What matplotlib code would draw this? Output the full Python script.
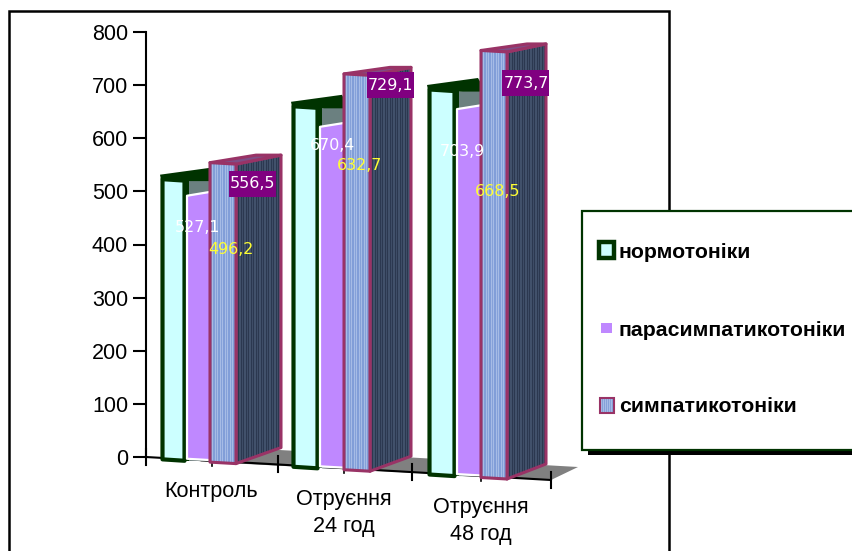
import matplotlib
matplotlib.use("Agg")
import matplotlib.pyplot as plt
from matplotlib.collections import LineCollection
from matplotlib.lines import Line2D
from matplotlib.patches import Polygon, Rectangle

# Values
categories = ["Контроль", "Отруєння\n24 год", "Отруєння\n48 год"]
series_names = ["нормотоніки", "парасимпатикотоніки", "симпатикотоніки"]
normo = [527.1, 670.4, 703.9]
para = [496.2, 632.7, 668.5]
sympa = [556.5, 729.1, 773.7]
y_ticks = [0, 100, 200, 300, 400, 500, 600, 700, 800]

# Pseudo-3D layout, x runs in pixels from the left edge of the figure
W, H = 853, 551
Y0, Y800 = 457, 32
K = (Y0 - Y800) / 800
FLOOR_SLOPE = 0.0568
group_edges = [(161, 186, 210, 236), (292, 319, 344, 370), (428, 456, 481, 507)]
side_ends = [281, 411, 546]
side_rise = [16, 15, 15]
top_rise = [9, 8, 8]
stretch = [1.013, 1.022, 1.039]

CYAN = "#CCFFFF"
DARK = "#003300"
SIDE = "#6B8080"
PURPLE = "#BF88FF"
EDGE = "#993366"
FRONT = "#7C9AD6"
FRONT_LINE = "#A6BCE6"
BACK = "#45556F"
BACK_LINE = "#2B3850"


def val(py):
    # pixel row -> value on the y axis
    return (Y0 - py) / K


def floor_y(x):
    return val(Y0 + (x - 146) * FLOOR_SLOPE + 1.5)


def top_y(x, v, g):
    return floor_y(x) + v * stretch[g]


def frange(a, b, step):
    out = []
    while a < b:
        out.append(a)
        a += step
    return out


fig = plt.figure(figsize=(W / 100, H / 100), dpi=100, facecolor="white")
ax = fig.add_axes([146 / W, (H - Y0) / H, (W - 146) / W, (Y0 - Y800) / H])
ax.patch.set_visible(False)
ax.set_xlim(146, W)
ax.set_ylim(0, 800)
ax.set_yticks(y_ticks)
ax.set_xticks([])
for name in ["top", "right", "bottom"]:
    ax.spines[name].set_visible(False)
ax.spines["left"].set_linewidth(1.5)
ax.tick_params(axis="y", length=9.4, width=1.5, pad=3.5, labelsize=15.5)
for lab in ax.get_yticklabels():
    lab.set_fontfamily("Liberation Sans")

# outer frame, the bottom side falls off the figure
fig.add_artist(Line2D([9 / W, 9 / W, 669 / W, 669 / W], [0, 1 - 11 / H, 1 - 11 / H, 0],
                      color="black", lw=1.8, zorder=-1, solid_joinstyle="miter"))


def poly(points, face, edge="none", lw=0.0, z=3):
    p = Polygon(points, closed=True, facecolor=face, edgecolor=edge, linewidth=lw,
                zorder=z, clip_on=False, joinstyle="round")
    ax.add_patch(p)
    return p


def stripes(patch, x0, x1, color, step, z):
    lines = [[(x, -100), (x, 900)] for x in frange(x0, x1, step)]
    lc = LineCollection(lines, colors=color, linewidths=0.9, zorder=z)
    ax.add_collection(lc)
    # the faces reach below the zero line, so only the face itself may clip
    lc.set_clip_box(None)
    lc.set_clip_path(patch)


# floor
floor_left, floor_right = 200, 551
poly([(floor_left, floor_y(floor_left)), (floor_right, val(480)), (578, val(467)),
      (floor_left + 27, val(447))], "#808080", z=1)
ax.plot([146, 551], [val(457), val(480)], color="black", lw=1.5, clip_on=False, zorder=2)
for x in [146, 278, 412, 551]:
    yc = val(457 + (x - 146) * (23 / 405))
    ax.plot([x, x], [yc + 8 / K, yc - 8 / K], color="black", lw=1.5, clip_on=False, zorder=2)
for x in [212, 344, 481]:
    yc = val(457 + (x - 146) * (23 / 405))
    ax.plot([x, x], [yc, yc - 5 / K], color="black", lw=1.2, clip_on=False, zorder=2)

for g in range(3):
    x0, x1, x2, x3 = group_edges[g]
    xs = side_ends[g]
    base = 3 + g

    # first series: cyan face with a heavy dark outline and a dark top
    t0, t1 = top_y(x0, normo[g], g), top_y(x1, normo[g], g)
    inner = x1 + 3
    back = x1 + 30
    poly([(inner, floor_y(x1)), (inner, t1 - 4 / K), (back, t1), (back, floor_y(x1))], SIDE, z=base)
    poly([(x0 - 1, t0 + 1 / K), (x0 + 50, t0 + 8 / K), (back, t1 - 4 / K), (inner, t1 - 4 / K), (x0, t0 - 4 / K)],
         DARK, z=base + 0.05)
    poly([(x1 - 2, floor_y(x1)), (x1 - 2, t1 - 1 / K), (inner, t1 - 1 / K), (inner, floor_y(x1))], DARK, z=base + 0.06)
    poly([(x0 + 1.5, floor_y(x0)), (x0 + 1.5, t0 - 3.5 / K), (x1 - 1.5, t1 - 3.5 / K), (x1 - 1.5, floor_y(x1))],
         CYAN, DARK, 3.0, base + 0.1)

    # second series: lilac face with a white outline, rising to the right
    t1p, t2p = top_y(x1, para[g], g), top_y(x2, para[g], g)
    poly([(x1 + 1, floor_y(x1) + 2 / K), (x1 + 1, t1p - 2 / K), (x2 + 1, t1p + 2 / K), (x2 + 1, floor_y(x2) + 2 / K)],
         PURPLE, "white", 1.6, base + 0.3)

    # third series: striped faces with a crimson outline
    t2, t3 = top_y(x2, sympa[g], g), top_y(x3, sympa[g], g)
    rise = side_rise[g] / K
    tr = top_rise[g] / K
    side_pts = [(x3, floor_y(x3)), (x3, t3), (xs, t3 + tr), (xs, floor_y(x3) + rise)]
    side = poly(side_pts, BACK, z=base + 0.4)
    stripes(side, x3, xs, BACK_LINE, 2.5, base + 0.45)
    poly(side_pts, "none", EDGE, 2.2, base + 0.5)
    poly([(x2, t2), (x3, t3), (xs, t3 + tr), (x3 + 20, t3 + tr)], "#7E4E86", EDGE, 2.2, base + 0.55)
    front_pts = [(x2, floor_y(x2)), (x2, t2), (x3, t3), (x3, floor_y(x3))]
    front = poly(front_pts, FRONT, z=base + 0.6)
    stripes(front, x2, x3, FRONT_LINE, 2.5, base + 0.65)
    poly(front_pts, "none", EDGE, 2.2, base + 0.7)

# value labels
label_font = {"family": "DejaVu Sans", "fontsize": 11.4, "ha": "center", "va": "center", "zorder": 20,
              "clip_on": False}
normo_pos = [(198, 228), (333, 145), (462, 151)]
para_pos = [(231, 249), (360, 165), (498, 191)]
sympa_pos = [(252.5, 183.5), (390.5, 85), (526, 83)]
for g in range(3):
    ax.text(normo_pos[g][0], val(normo_pos[g][1]), f"{normo[g]:.1f}".replace(".", ","),
            color="white", **label_font)
    ax.text(para_pos[g][0], val(para_pos[g][1]), f"{para[g]:.1f}".replace(".", ","),
            color="#FFFF33", **label_font)
    cx, cy = sympa_pos[g]
    ax.add_patch(Rectangle((cx - 23.5, val(cy + 13)), 47, 26 / K, facecolor="#800080", edgecolor="none",
                           zorder=19, clip_on=False))
    ax.text(cx, val(cy), f"{sympa[g]:.1f}".replace(".", ","), color="white", **label_font)

# category labels
cat_pos = [(211, 491), (344, 513), (481, 521)]
for name, (x, y) in zip(categories, cat_pos):
    ax.text(x, val(y), name, ha="center", va="center", fontsize=15.6, family="Liberation Sans",
            linespacing=1.33, clip_on=False, zorder=20)

# legend box with a drop shadow
ax.add_patch(Rectangle((588, val(455)), W - 588 + 10, 10 / K, facecolor="black", edgecolor="none",
                       zorder=30, clip_on=False))
ax.add_patch(Rectangle((582, val(449.5)), W - 582 + 10, 238.5 / K, facecolor="white", edgecolor=DARK,
                       linewidth=1.6, zorder=31, clip_on=False))
ax.add_patch(Rectangle((599, val(257.5)), 15.5, 15.5 / K, facecolor=CYAN, edgecolor=DARK, linewidth=3.2,
                       zorder=32, clip_on=False))
ax.add_patch(Rectangle((601, val(333)), 11, 10.5 / K, facecolor=PURPLE, edgecolor="none",
                       zorder=32, clip_on=False))
swatch = Rectangle((600, val(412.5)), 14.5, 14.5 / K, facecolor=FRONT, edgecolor="none",
                   zorder=32, clip_on=False)
ax.add_patch(swatch)
stripes(swatch, 601, 615, FRONT_LINE, 2.0, 32.2)
ax.add_patch(Rectangle((600, val(412.5)), 14.5, 14.5 / K, facecolor="none", edgecolor=EDGE, linewidth=1.5,
                       zorder=32.4, clip_on=False))
for name, y in zip(series_names, [252, 330, 406]):
    ax.text(619, val(y), name, ha="left", va="center", fontsize=15.3, fontweight="bold",
            family="Liberation Sans", zorder=33, clip_on=False)

fig.savefig("out.png", dpi=100)
